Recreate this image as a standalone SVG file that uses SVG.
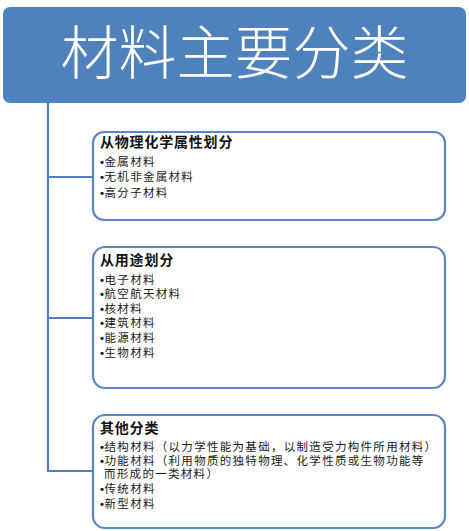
<svg xmlns="http://www.w3.org/2000/svg" width="469" height="531" viewBox="0 0 469 531">
<style>
.box{fill:#ffffff;stroke:#5a86c3;stroke-width:2.2}
.conn{fill:none;stroke:#4f7fbd;stroke-width:2.2}
.body{font-family:"Noto Sans CJK SC","Liberation Sans",sans-serif;font-size:11.5px;letter-spacing:1.3px;fill:#1a1a1a}
.h{font-size:14px;font-weight:bold;letter-spacing:0.8px;fill:#111}
.b{font-family:"Liberation Sans",sans-serif;font-size:11.5px;letter-spacing:0.5px;font-weight:bold}
.title{font-family:"Noto Sans CJK SC","Liberation Sans",sans-serif;font-size:58px;font-weight:300;fill:#ffffff}
</style>
<rect width="469" height="531" fill="#ffffff"/>
<g id="connectors">
<path class="conn" d="M48,103 V471 H93 M48,177 H93 M48,318 H93"/>
</g>
<g id="root">
<rect x="3" y="7" width="463" height="96" rx="7" fill="#4f81bd"/>
<text class="title" x="234.5" y="74" text-anchor="middle">材料主要分类</text>
</g>
<g id="node1">
<rect class="box" x="93" y="132" width="352" height="88" rx="11"/>
<text class="body"><tspan class="h" x="100" y="146.5">从物理化学属性划分</tspan><tspan x="100" y="165.6"><tspan class="b">•</tspan>金属材料</tspan><tspan x="100" y="181.2"><tspan class="b">•</tspan>无机非金属材料</tspan><tspan x="100" y="196.6"><tspan class="b">•</tspan>高分子材料</tspan></text>
</g>
<g id="node2">
<rect class="box" x="93" y="247" width="352" height="141" rx="12"/>
<text class="body"><tspan class="h" x="100" y="265">从用途划分</tspan><tspan x="100" y="283.6"><tspan class="b">•</tspan>电子材料</tspan><tspan x="100" y="298.2"><tspan class="b">•</tspan>航空航天材料</tspan><tspan x="100" y="312.8"><tspan class="b">•</tspan>核材料</tspan><tspan x="100" y="327.4"><tspan class="b">•</tspan>建筑材料</tspan><tspan x="100" y="342"><tspan class="b">•</tspan>能源材料</tspan><tspan x="100" y="356.6"><tspan class="b">•</tspan>生物材料</tspan></text>
</g>
<g id="node3">
<rect class="box" x="93" y="415" width="352" height="113" rx="12"/>
<text class="body"><tspan class="h" x="100" y="432.5">其他分类</tspan><tspan x="100" y="450.5"><tspan class="b">•</tspan>结构材料（以力学性能为基础，以制造受力构件所用材料）</tspan><tspan x="100" y="465.3"><tspan class="b">•</tspan>功能材料（利用物质的独特物理、化学性质或生物功能等</tspan><tspan x="104" y="478.3">而形成的一类材料）</tspan><tspan x="100" y="493.4"><tspan class="b">•</tspan>传统材料</tspan><tspan x="100" y="508"><tspan class="b">•</tspan>新型材料</tspan></text>
</g>
</svg>
